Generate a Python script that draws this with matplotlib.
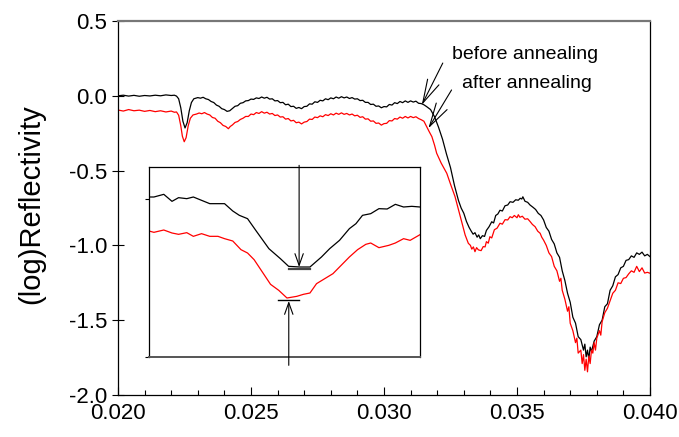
import matplotlib
matplotlib.use("Agg")
import matplotlib.pyplot as plt
from matplotlib.ticker import MultipleLocator, FormatStrFormatter

plt.rcParams['font.family'] = ['Liberation Sans', 'DejaVu Sans']
plt.rcParams['axes.unicode_minus'] = False

# before annealing (black)
q_before = [
    0.02000, 0.02020, 0.02040, 0.02060, 0.02080, 0.02100, 0.02120, 0.02140, 0.02160, 0.02180,
    0.02200, 0.02212, 0.02220, 0.02228, 0.02236, 0.02244, 0.02252, 0.02260, 0.02268, 0.02276,
    0.02285, 0.02300, 0.02310, 0.02320, 0.02330, 0.02340, 0.02350, 0.02360, 0.02370, 0.02380,
    0.02390, 0.02400, 0.02410, 0.02420,
    0.0243, 0.0244, 0.0245, 0.0246, 0.0247, 0.0248, 0.0249, 0.0250, 0.0251, 0.0252,
    0.0253, 0.0254, 0.0255, 0.0256, 0.0257, 0.0258, 0.0259, 0.0260, 0.0261, 0.0262,
    0.0263, 0.0264, 0.0265, 0.0266, 0.0267, 0.0268, 0.0269, 0.0270, 0.0271, 0.0272,
    0.0273, 0.0274, 0.0275, 0.0276, 0.0277, 0.0278, 0.0279, 0.0280, 0.0281, 0.0282,
    0.0283, 0.0284, 0.0285, 0.0286, 0.0287, 0.0288, 0.0289, 0.0290, 0.0291, 0.0292,
    0.0293, 0.0294, 0.0295, 0.0296, 0.0297, 0.0298, 0.0299, 0.0300, 0.0301, 0.0302,
    0.0303, 0.0304, 0.0305, 0.0306, 0.0307, 0.0308, 0.0309, 0.0310, 0.0311, 0.0312,
    0.0313, 0.0314, 0.0315, 0.0316,
    0.03175, 0.03190, 0.03205, 0.03220, 0.03235, 0.03250, 0.03265, 0.03280, 0.03290, 0.03300,
    0.03310, 0.03320, 0.03328, 0.03335, 0.03342, 0.03350, 0.03356, 0.03362, 0.03370, 0.03378,
    0.03385, 0.03395, 0.03405, 0.03412, 0.03420, 0.03428, 0.03436, 0.03445, 0.03455, 0.03465,
    0.03474, 0.03485, 0.03495, 0.03505, 0.03512, 0.03518, 0.03522, 0.03530, 0.03540, 0.03549,
    0.03560, 0.03570, 0.03580, 0.03590,
    0.03600, 0.03610, 0.03620, 0.03630, 0.03640, 0.03650, 0.03660, 0.03670, 0.03680, 0.03690,
    0.03700, 0.03710, 0.03720, 0.03730, 0.03740, 0.03750, 0.03755, 0.03760, 0.03765, 0.03770,
    0.03775, 0.03780, 0.03790, 0.03800, 0.03810, 0.03820, 0.03830, 0.03840, 0.03850, 0.03860,
    0.03870, 0.03880, 0.03890, 0.03900, 0.03910, 0.03920, 0.03930, 0.03940, 0.03950, 0.03960,
    0.03970, 0.03980, 0.03990, 0.04000]
r_before = [
    0.000, 0.004, -0.002, 0.003, -0.003, 0.002, -0.001, 0.004, 0.000, 0.006,
    0.002, 0.004, -0.002, -0.020, -0.080, -0.170, -0.215, -0.180, -0.100, -0.045,
    -0.020, -0.012, -0.016, -0.010, -0.020, -0.025, -0.038, -0.045, -0.062, -0.070,
    -0.086, -0.092, -0.104, -0.100,
    -0.085, -0.070, -0.066, -0.050, -0.046, -0.034, -0.032, -0.022, -0.024, -0.014,
    -0.018, -0.008, -0.016, -0.010, -0.022, -0.020, -0.034, -0.032, -0.046, -0.044,
    -0.060, -0.056, -0.072, -0.070, -0.084, -0.078, -0.086, -0.072, -0.070, -0.054,
    -0.056, -0.040, -0.044, -0.030, -0.034, -0.020, -0.026, -0.014, -0.020, -0.008,
    -0.016, -0.006, -0.014, -0.008, -0.018, -0.012, -0.022, -0.020, -0.032, -0.030,
    -0.044, -0.044, -0.058, -0.056, -0.070, -0.068, -0.080, -0.072, -0.074, -0.058,
    -0.062, -0.046, -0.052, -0.038, -0.046, -0.034, -0.044, -0.034, -0.042, -0.036,
    -0.050, -0.052, -0.060, -0.072,
    -0.092, -0.140, -0.210, -0.290, -0.390, -0.480, -0.600, -0.700, -0.750, -0.785,
    -0.840, -0.880, -0.905, -0.925, -0.915, -0.945, -0.930, -0.955, -0.935, -0.940,
    -0.900, -0.875, -0.842, -0.850, -0.800, -0.790, -0.765, -0.770, -0.735, -0.730,
    -0.708, -0.712, -0.695, -0.698, -0.685, -0.690, -0.675, -0.705, -0.712, -0.730,
    -0.745, -0.760, -0.786, -0.800,
    -0.830, -0.880, -0.905, -0.960, -0.990, -1.050, -1.080, -1.170, -1.235, -1.320,
    -1.380, -1.480, -1.520, -1.610, -1.630, -1.700, -1.660, -1.745, -1.700, -1.760,
    -1.680, -1.710, -1.640, -1.610, -1.530, -1.500, -1.410, -1.390, -1.300, -1.270,
    -1.210, -1.195, -1.150, -1.140, -1.100, -1.095, -1.070, -1.080, -1.050, -1.060,
    -1.045, -1.070, -1.060, -1.075]

# after annealing (red)
q_after = [
    0.02000, 0.02020, 0.02040, 0.02060, 0.02080, 0.02100, 0.02120, 0.02140, 0.02160, 0.02180,
    0.02200, 0.02212, 0.02220, 0.02228, 0.02236, 0.02242, 0.02249, 0.02256, 0.02264, 0.02272,
    0.02282, 0.02295, 0.02305, 0.02315, 0.02325, 0.02335, 0.02345, 0.02355, 0.02365, 0.02375,
    0.02385, 0.02395, 0.02405, 0.02415, 0.02422,
    0.0243, 0.0244, 0.0245, 0.0246, 0.0247, 0.0248, 0.0249, 0.0250, 0.0251, 0.0252,
    0.0253, 0.0254, 0.0255, 0.0256, 0.0257, 0.0258, 0.0259, 0.0260, 0.0261, 0.0262,
    0.0263, 0.0264, 0.0265, 0.0266, 0.0267, 0.0268, 0.0269, 0.0270, 0.0271, 0.0272,
    0.0273, 0.0274, 0.0275, 0.0276, 0.0277, 0.0278, 0.0279, 0.0280, 0.0281, 0.0282,
    0.0283, 0.0284, 0.0285, 0.0286, 0.0287, 0.0288, 0.0289, 0.0290, 0.0291, 0.0292,
    0.0293, 0.0294, 0.0295, 0.0296, 0.0297, 0.0298, 0.0299, 0.0300, 0.0301, 0.0302,
    0.0303, 0.0304, 0.0305, 0.0306, 0.0307, 0.0308, 0.0309, 0.0310, 0.0311, 0.0312,
    0.0313, 0.0314, 0.0315, 0.0316,
    0.03170, 0.03180, 0.03190, 0.03198, 0.03215, 0.03229, 0.03236, 0.03250, 0.03267, 0.03280,
    0.03292, 0.03305, 0.03317, 0.03325, 0.03330, 0.03336, 0.03342, 0.03348, 0.03355, 0.03365,
    0.03373, 0.03380, 0.03385, 0.03392, 0.03398, 0.03405, 0.03415, 0.03425, 0.03436, 0.03445,
    0.03455, 0.03465, 0.03474, 0.03482, 0.03490, 0.03500, 0.03505, 0.03511, 0.03520, 0.03530,
    0.03540, 0.03549, 0.03558, 0.03568, 0.03578, 0.03587, 0.03593,
    0.03600, 0.03610, 0.03620, 0.03630, 0.03640, 0.03650, 0.03660, 0.03665, 0.03670, 0.03680,
    0.03690, 0.03695, 0.03700, 0.03710, 0.03720, 0.03725, 0.03730, 0.03740, 0.03745, 0.03750,
    0.03755, 0.03760, 0.03765, 0.03770, 0.03775, 0.03780, 0.03785, 0.03790, 0.03795, 0.03800,
    0.03810, 0.03815, 0.03820, 0.03830, 0.03840, 0.03850, 0.03860, 0.03870, 0.03880, 0.03890,
    0.03900, 0.03910, 0.03920, 0.03930, 0.03940, 0.03950, 0.03960, 0.03970, 0.03980, 0.03990,
    0.04000]
r_after = [
    -0.095, -0.102, -0.092, -0.100, -0.096, -0.104, -0.098, -0.106, -0.100, -0.108,
    -0.102, -0.110, -0.108, -0.130, -0.200, -0.270, -0.307, -0.280, -0.200, -0.150,
    -0.128, -0.122, -0.115, -0.120, -0.112, -0.122, -0.128, -0.145, -0.150, -0.170,
    -0.180, -0.198, -0.205, -0.220, -0.205,
    -0.195, -0.178, -0.172, -0.158, -0.150, -0.138, -0.138, -0.122, -0.126, -0.112,
    -0.118, -0.106, -0.116, -0.110, -0.122, -0.118, -0.132, -0.128, -0.142, -0.140,
    -0.156, -0.152, -0.168, -0.164, -0.180, -0.176, -0.188, -0.176, -0.172, -0.156,
    -0.158, -0.142, -0.146, -0.134, -0.140, -0.126, -0.132, -0.120, -0.128, -0.116,
    -0.124, -0.114, -0.124, -0.118, -0.128, -0.122, -0.134, -0.130, -0.144, -0.140,
    -0.156, -0.154, -0.170, -0.168, -0.184, -0.182, -0.196, -0.186, -0.184, -0.166,
    -0.168, -0.152, -0.156, -0.142, -0.150, -0.138, -0.148, -0.138, -0.146, -0.140,
    -0.152, -0.160, -0.170, -0.205,
    -0.240, -0.273, -0.330, -0.384, -0.450, -0.496, -0.518, -0.590, -0.674, -0.760,
    -0.842, -0.930, -0.986, -1.000, -1.025, -1.010, -1.042, -1.015, -1.030, -1.035,
    -1.008, -1.010, -0.975, -0.985, -0.942, -0.950, -0.895, -0.885, -0.852, -0.858,
    -0.828, -0.830, -0.808, -0.815, -0.800, -0.815, -0.795, -0.812, -0.805, -0.825,
    -0.822, -0.840, -0.860, -0.875, -0.905, -0.919, -0.945,
    -0.965, -1.000, -1.050, -1.075, -1.140, -1.170, -1.240, -1.220, -1.300, -1.360,
    -1.440, -1.410, -1.520, -1.570, -1.650, -1.620, -1.720, -1.700, -1.790, -1.730,
    -1.835, -1.760, -1.845, -1.740, -1.790, -1.700, -1.720, -1.650, -1.700, -1.620,
    -1.570, -1.600, -1.510, -1.450, -1.420, -1.370, -1.320, -1.300, -1.250, -1.255,
    -1.220, -1.215, -1.190, -1.170, -1.180, -1.140, -1.175, -1.150, -1.185, -1.180,
    -1.186]

# inset: close-up of the first dip
qi = [0.02170, 0.02173, 0.02179, 0.02184, 0.02188, 0.02193, 0.02197, 0.02202,
      0.02207, 0.02216, 0.02221, 0.02225, 0.02230, 0.02235, 0.02243, 0.02250,
      0.02255, 0.02262, 0.02268, 0.02275, 0.02280, 0.02286, 0.02292, 0.02296,
      0.02300, 0.02305, 0.02310, 0.02315, 0.02320, 0.02325, 0.02330, 0.02335]
ri_before = [0.000, 0.000, 0.008, -0.013, -0.002, -0.005, 0.000, -0.010,
             -0.020, -0.020, -0.042, -0.055, -0.065, -0.100, -0.155, -0.185,
             -0.208, -0.210, -0.210, -0.180, -0.155, -0.130, -0.095, -0.080,
             -0.055, -0.050, -0.035, -0.036, -0.022, -0.030, -0.028, -0.030]
qi_a = [0.02170, 0.02173, 0.02179, 0.02184, 0.02188, 0.02193, 0.02197, 0.02202,
        0.02207, 0.02212, 0.02216, 0.02221, 0.02226, 0.02230, 0.02234, 0.02239,
        0.02244, 0.02249, 0.02254, 0.02260, 0.02264, 0.02268, 0.02272, 0.02277,
        0.02282, 0.02287, 0.02292, 0.02297, 0.02302, 0.02305, 0.02310, 0.02316,
        0.02320, 0.02325, 0.02329, 0.02335]
ri_after = [-0.102, -0.106, -0.099, -0.108, -0.112, -0.107, -0.118, -0.110,
            -0.118, -0.118, -0.125, -0.132, -0.158, -0.168, -0.188, -0.225,
            -0.262, -0.280, -0.303, -0.298, -0.292, -0.288, -0.260, -0.245,
            -0.230, -0.205, -0.180, -0.158, -0.142, -0.138, -0.152, -0.145,
            -0.138, -0.125, -0.130, -0.113]

W, H = 679, 437
fig = plt.figure(figsize=(W / 100, H / 100), dpi=100)
ax = fig.add_axes([118 / W, 1 - 395 / H, 532 / W, 374 / H])

ax.plot(q_before, r_before, color='black', lw=0.9)
ax.plot(q_after, r_after, color='red', lw=0.9)

ax.set_xlim(0.020, 0.040)
ax.set_ylim(-2.0, 0.5)
ax.xaxis.set_major_locator(MultipleLocator(0.005))
ax.xaxis.set_minor_locator(MultipleLocator(0.001))
ax.yaxis.set_major_locator(MultipleLocator(0.5))
ax.xaxis.set_major_formatter(FormatStrFormatter('%.3f'))
ax.yaxis.set_major_formatter(FormatStrFormatter('%.1f'))
ax.tick_params(axis='x', which='major', direction='in', length=6, width=0.8,
               labelsize=16, pad=6)
ax.tick_params(axis='x', which='minor', direction='in', length=3.5, width=0.8)
ax.tick_params(axis='y', direction='inout', length=8, width=0.8, labelsize=16, pad=4)
for s in ['left', 'bottom', 'right']:
    ax.spines[s].set_linewidth(0.9)
ax.spines['top'].set_color('#777777')
ax.spines['top'].set_linewidth(1.6)

fig.text(31 / W, 1 - 204 / H, '(log)Reflectivity', rotation=90,
         ha='center', va='center', fontsize=21)

# labels with arrows
arrow_kw = dict(arrowstyle='->, head_length=1.3, head_width=0.35',
                color='black', lw=0.8, mutation_scale=13, shrinkA=0, shrinkB=0)
ax.annotate('', xy=(0.03142, -0.061), xytext=(0.03221, 0.219), arrowprops=arrow_kw)
ax.annotate('', xy=(0.03167, -0.217), xytext=(0.03254, 0.039), arrowprops=arrow_kw)
ax.text(0.03530, 0.273, 'before annealing', ha='center', va='center', fontsize=14)
ax.text(0.03538, 0.082, 'after annealing', ha='center', va='center', fontsize=14)

# inset
axi = fig.add_axes([149 / W, 1 - 357 / H, 271 / W, 190 / H])
axi.plot(qi, ri_before, color='black', lw=0.9)
axi.plot(qi_a, ri_after, color='red', lw=0.9)
axi.set_xlim(0.02170, 0.02335)
axi.set_ylim(-0.48, 0.09)
axi.set_xticks([])
axi.set_yticks([-0.005, -0.48])
axi.set_yticklabels([])
axi.tick_params(axis='y', direction='out', length=3, width=0.8)
for s in axi.spines.values():
    s.set_linewidth(0.9)
axi.spines['bottom'].set_color('#555555')
axi.spines['bottom'].set_linewidth(1.4)

small_kw = dict(arrowstyle='->, head_length=0.7, head_width=0.25',
                color='black', lw=0.8, mutation_scale=12, shrinkA=0, shrinkB=0)
axi.annotate('', xy=(0.022614, -0.210), xytext=(0.022614, 0.095),
             arrowprops=small_kw, annotation_clip=False)
axi.plot([0.022551, 0.022683], [-0.215, -0.215], color='#444444', lw=1.6)
axi.annotate('', xy=(0.022551, -0.312), xytext=(0.022551, -0.505),
             arrowprops=small_kw, annotation_clip=False)
axi.plot([0.022486, 0.022614], [-0.310, -0.310], color='black', lw=1.0)

fig.savefig('out.png', dpi=100)
